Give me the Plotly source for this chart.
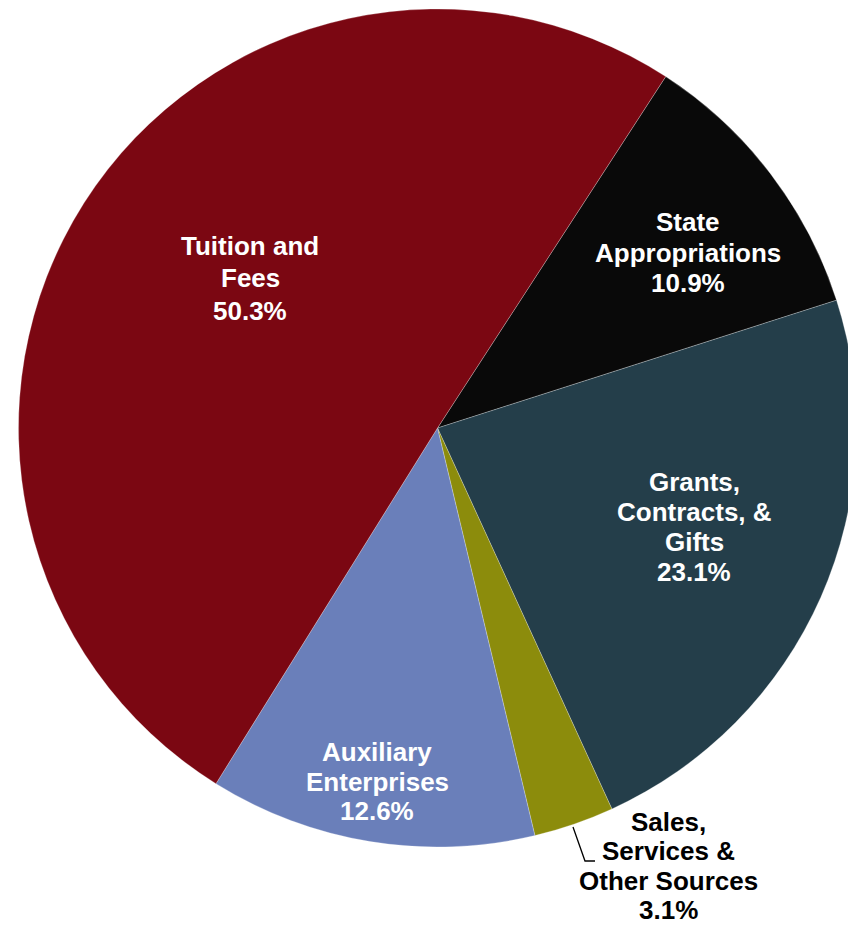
import plotly.graph_objects as go

# ---- data (clockwise from the State slice) ----
categories = ["State<br>Appropriations", "Grants,<br>Contracts, &<br>Gifts",
              "Sales,<br>Services &<br>Other Sources", "Auxiliary<br>Enterprises",
              "Tuition and<br>Fees"]
values = [10.9, 23.1, 3.1, 12.6, 50.3]
colors = ["#090909", "#243E4A", "#8C8C0C", "#6A7FBA", "#7B0712"]

# ---- layout geometry (pixels) ----
W, H = 857, 928
ML, MR, MT, MB = 18, 0, 9, 81
PW, PH = W - ML - MR, H - MT - MB


def px(x):
    return (x - ML) / PW


def py(y):
    return 1 - (y - MT) / PH


fig = go.Figure(go.Pie(
    labels=categories,
    values=values,
    sort=False,
    direction="clockwise",
    rotation=33,
    marker=dict(colors=colors, line=dict(color="rgba(255,255,255,0.25)", width=1)),
    textinfo="none",
    hoverinfo="label+percent",
    showlegend=False,
))

# label block centres (pixels) and line spacing
label_pos = [(688, 252.5), (694, 527), (668, 866), (377, 781.5), (250, 278.5)]
line_gap = [30.5, 30, 29.5, 29.5, 32.5]
fam = "Arial, Liberation Sans, sans-serif"

annotations = []
for i, (lab, v) in enumerate(zip(categories, values)):
    x, y = label_pos[i]
    lines = lab.split("<br>") + [f"{v:.1f}%"]
    n = len(lines)
    colr = "black" if i == 2 else "white"
    for k, t in enumerate(lines):
        yy = y + (k - (n - 1) / 2) * line_gap[i]
        annotations.append(dict(
            x=px(x), y=py(yy), xref="paper", yref="paper",
            text=f"<b>{t}</b>", showarrow=False,
            xanchor="center", yanchor="middle", borderpad=0,
            font=dict(family=fam, size=26, color=colr),
        ))

# leader line for the small slice label
p0, p1, p2 = (573, 827), (585, 861), (595, 861)
path = (f"M {px(p0[0])},{py(p0[1])} L {px(p1[0])},{py(p1[1])} "
        f"L {px(p2[0])},{py(p2[1])}")

fig.update_layout(
    width=W, height=H,
    margin=dict(l=ML, r=MR, t=MT, b=MB, pad=0),
    paper_bgcolor="white", plot_bgcolor="white",
    annotations=annotations,
    shapes=[dict(type="path", path=path, xref="paper", yref="paper",
                 line=dict(color="black", width=1.3))],
)

fig.write_html(
    "out.html",
    config={"displayModeBar": False},
    post_script="document.body.style.margin='0';document.body.style.overflow='hidden';"
                "document.documentElement.style.overflow='hidden';",
)
